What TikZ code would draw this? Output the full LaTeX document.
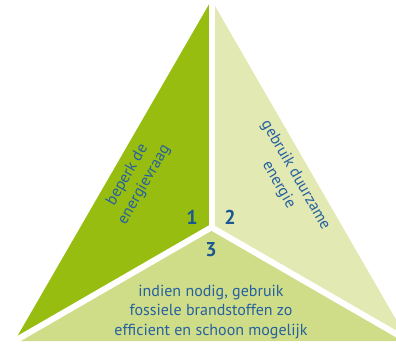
\documentclass[tikz,border=0pt]{standalone}
\usepackage{fontspec}
\setmainfont{PT Sans}
\definecolor{gdark}{HTML}{97BD10}
\definecolor{glight}{HTML}{E3E9B2}
\definecolor{gmid}{HTML}{D0DD88}
\definecolor{tblue}{HTML}{2561A0}
\definecolor{nblue}{HTML}{1B5892}
\tikzset{
  lbl/.style={text=tblue, font=\fontsize{16}{19.5}\selectfont, align=center, inner sep=0pt},
  num/.style={text=nblue, font=\fontsize{20}{20}\selectfont\bfseries, inner sep=0pt},
  gap/.style={white, line width=6pt}
}
\begin{document}
\begin{tikzpicture}[x=1pt,y=-1pt]
\useasboundingbox (0,0) rectangle (396,343);
\clip (0,0) rectangle (396,343);
\coordinate (A) at (211.5,0);
\coordinate (BL) at (14.6,341);
\coordinate (BR) at (408.4,341);
\coordinate (O) at (211.5,227.3);
\fill[gdark] (A) -- (O) -- (BL) -- cycle;
\fill[glight] (A) -- (O) -- (BR) -- cycle;
\fill[gmid] (BL) -- (O) -- (BR) -- cycle;
\draw[gap] (O) -- (A);
\draw[gap] (O) -- (BL);
\draw[gap] (O) -- (BR);
\node[lbl, rotate=60] (t1) at (136,180) {beperk de\\energievraag};
\node[lbl, rotate=-60] (t2) at (287,180) {gebruik duurzame\\energie};
\node[lbl] (t3) at (211,312) {indien nodig, gebruik\\fossiele brandstoffen zo\\efficient en schoon mogelijk};
\node[num] (n1) at (192,217) {1};
\node[num] (n2) at (230,217) {2};
\node[num] (n3) at (211,250) {3};
\end{tikzpicture}
\end{document}
